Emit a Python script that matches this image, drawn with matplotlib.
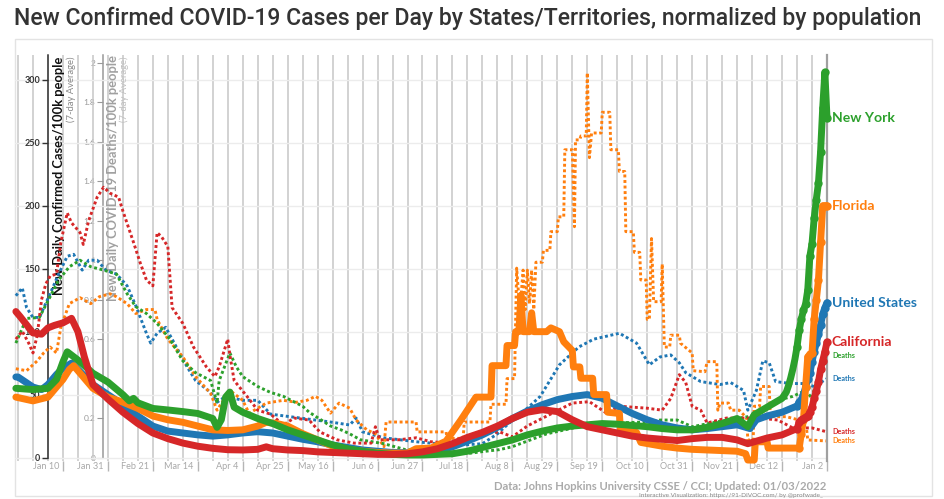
import matplotlib
matplotlib.use("Agg")
import matplotlib.pyplot as plt
from matplotlib.transforms import blended_transform_factory, ScaledTranslation
from matplotlib.patches import Rectangle

# ---------------- data (day offsets relative to 2021-01-10) ----------------
x_tick_days = [0, 21, 42, 63, 84, 105, 126, 147, 168, 189, 210, 231, 252, 273, 294, 315, 336, 357]
x_tick_labels = ["Jan 10", "Jan 31", "Feb 21", "Mar 14", "Apr 4", "Apr 25", "May 16", "Jun 6",
                 "Jun 27", "Jul 18", "Aug 8", "Aug 29", "Sep 19", "Oct 10", "Oct 31", "Nov 21",
                 "Dec 12", "Jan 2"]
cases_ticks = [0, 50, 100, 150, 200, 250, 300]
deaths_ticks = [0, 0.2, 0.4, 0.6, 0.8, 1.0, 1.2, 1.4, 1.6, 1.8, 2.0]

us_cases = [(-22, 64), (-21, 64), (-14, 56), (-10, 54), (-7, 58), (-3, 66), (0, 71), (4, 75), (7, 70),
            (14, 58), (21, 50), (28, 42), (35, 33), (42, 25), (49, 21), (56, 19.5), (63, 18), (70, 17),
            (77, 18), (84, 19.5), (91, 20.5), (98, 19.5), (105, 17), (112, 14.5), (119, 12.5), (126, 10),
            (133, 8), (140, 6), (147, 5), (154, 4), (161, 3.8), (168, 4), (175, 5.5), (182, 8.5), (189, 13),
            (196, 18), (203, 24), (210, 31), (217, 37), (224, 42), (231, 46), (238, 48.5), (245, 50),
            (252, 47), (259, 41), (266, 35), (273, 30), (280, 26), (287, 23.5), (294, 22), (301, 23),
            (308, 24.5), (315, 26), (321, 23), (324, 30), (329, 33), (336, 36), (343, 41), (344, 44),
            (345, 46), (346, 50), (347, 56), (348, 62), (349, 67), (350, 76), (351, 84), (352, 91),
            (353, 98), (354, 105), (355, 114), (356, 119), (357, 123)]

ca_cases = [(-22, 116), (-20, 112), (-14, 99), (-10, 98), (-7, 103), (-4, 105), (0, 107), (4, 110.6),
            (7, 100), (10, 80), (14, 58), (21, 46.5), (28, 36), (35, 27), (42, 19.5), (49, 15), (56, 11.5),
            (63, 9), (70, 7.3), (77, 6.2), (84, 6), (91, 6.5), (95, 8.5), (98, 7), (105, 6), (112, 5.5),
            (119, 4.5), (126, 4), (133, 3.5), (140, 3), (147, 2.5), (154, 2.5), (161, 3), (168, 4.5),
            (175, 7), (182, 11), (189, 16), (196, 20), (203, 25), (210, 31), (217, 36), (224, 38),
            (231, 36.5), (238, 30), (245, 24.5), (252, 22), (259, 19.5), (266, 17), (273, 15.5),
            (280, 14.5), (287, 13.5), (294, 15), (301, 16), (308, 16), (315, 14), (320, 11), (322, 12),
            (329, 15.5), (336, 18), (343, 23), (344, 28), (345, 30), (346, 31), (347, 32), (348, 33),
            (349, 36), (350, 40), (351, 47), (352, 53), (353, 60), (354, 70), (355, 77), (356, 84),
            (357, 91.6)]

ny_cases = [(-22, 55), (-14, 54), (-7, 55), (-3, 62), (0, 76), (2, 84), (7, 77.5), (14, 67), (21, 60),
            (28, 50), (31, 45), (33, 47), (35, 43.5), (42, 39), (49, 37.8), (56, 36.5), (63, 35),
            (70, 31), (72, 24), (74, 30), (76, 48), (78, 52), (80, 40), (84, 36), (91, 31), (98, 27),
            (105, 22), (112, 18), (119, 14), (126, 10), (133, 7), (140, 5), (147, 3.5), (154, 2.5),
            (161, 2), (168, 2), (175, 2.5), (182, 3), (189, 5), (196, 8), (203, 11), (210, 14),
            (217, 18), (224, 21), (231, 23.5), (238, 25), (245, 26), (252, 27), (259, 26.5),
            (266, 25.5), (273, 24.5), (280, 23), (287, 22), (294, 22), (301, 24), (308, 27), (315, 31),
            (320, 24.5), (323, 34), (329, 40), (333, 44), (336, 47), (338, 52), (339, 57), (340, 63),
            (341, 70), (342, 78), (343, 88), (344, 101), (345, 110), (346, 117), (347, 122), (348, 133),
            (349, 160), (350, 170), (351, 190), (352, 205), (353, 218), (354, 243), (355, 278),
            (356, 306), (357, 270)]

fl_cases = [(-22, 48), (-14, 45), (-7, 48), (-3, 56), (0, 62), (3, 70), (5, 73), (8, 67), (14, 55),
            (21, 48), (28, 44), (35, 39), (42, 33), (49, 30), (56, 28), (63, 25), (70, 22), (77, 21.5),
            (84, 22), (91, 25), (95, 28), (100, 27), (105, 25), (112, 19), (119, 14), (126, 9),
            (133, 6.5), (140, 5), (147, 4), (154, 3.5), (161, 3.5), (165, 7), (172, 7.5), (179, 13),
            (186, 30), (193, 48), (200, 48), (200.5, 73), (207, 73), (207.5, 89), (211, 89),
            (211.5, 100), (213, 100), (214, 129), (215, 100), (218, 100), (219, 115), (220, 100),
            (226, 100), (228, 103), (232, 100), (234, 92), (238, 85), (238.5, 72), (241.5, 72),
            (242, 63), (247.5, 63), (248, 50), (254, 50), (254.5, 36), (260, 35), (260.5, 22),
            (268, 20), (270, 12), (280, 9), (287, 7.5), (294, 6.5), (301, 6), (308, 5.5), (315, 5),
            (319, 3), (320, -2), (323, -2), (323.5, 12.5), (329, 12.5), (329.5, 7.5), (344, 7.5),
            (345, 19), (346, 30), (347, 56), (348, 80), (349, 82), (350, 83), (351, 110), (352, 125),
            (353, 141), (354, 171), (355, 200), (356, 200), (357, 200)]

us_deaths = [(-22, 0.82), (-19, 0.86), (-17, 0.76), (-14, 0.71), (-11, 0.71), (-6, 0.83), (-2, 0.93),
             (2, 1.02), (5, 1.03), (9, 0.95), (12, 1.0), (16, 1.0), (20, 0.95), (25, 0.93), (30, 0.87),
             (34, 0.77), (39, 0.63), (41, 0.58), (44, 0.63), (48, 0.66), (53, 0.56), (58, 0.46),
             (62, 0.39), (69, 0.33), (72, 0.28), (76, 0.31), (84, 0.29), (91, 0.29), (97, 0.22),
             (111, 0.2), (125, 0.18), (134, 0.165), (137, 0.2), (140, 0.13), (150, 0.1), (165, 0.08),
             (175, 0.07), (189, 0.065), (196, 0.07), (203, 0.12), (210, 0.19), (217, 0.25), (223, 0.31),
             (232, 0.47), (241, 0.56), (248, 0.6), (260, 0.63), (268, 0.58), (274, 0.47), (279, 0.51),
             (284, 0.52), (288, 0.48), (291, 0.43), (298, 0.385), (307, 0.37), (312, 0.38), (318, 0.34),
             (320, 0.24), (324, 0.34), (327, 0.49), (330, 0.48), (333, 0.385), (340, 0.375),
             (346, 0.375), (351, 0.36), (357, 0.40)]

ca_deaths = [(-22, 0.60), (-19, 0.64), (-16, 0.58), (-14, 0.53), (-12, 0.62), (-10, 0.80), (-8, 0.88),
             (-6, 0.92), (-3, 0.93), (-1, 1.09), (2, 1.24), (4, 1.19), (8, 1.14), (9.5, 1.08), (12, 1.20),
             (16, 1.32), (19, 1.37), (22, 1.34), (26, 1.32), (28, 1.25), (33, 1.09), (36, 0.99),
             (39, 0.90), (42, 0.87), (44, 1.14), (46, 1.12), (49, 1.07), (51, 0.76), (56, 0.68),
             (61, 0.56), (67, 0.46), (71, 0.41), (73, 0.46), (77, 0.60), (78, 0.52), (80, 0.39),
             (86, 0.31), (91, 0.24), (97, 0.22), (103, 0.165), (108, 0.2), (115, 0.19), (120, 0.13),
             (128, 0.09), (136, 0.073), (144, 0.073), (146, 0.156), (148, 0.09), (157, 0.09),
             (165, 0.1), (172, 0.08), (181, 0.073), (187, 0.09), (196, 0.12), (204, 0.13), (210, 0.105),
             (217, 0.16), (226, 0.21), (238, 0.276), (246, 0.283), (254, 0.225), (260, 0.26),
             (273, 0.25), (280, 0.24), (284, 0.3), (288, 0.42), (291, 0.38), (294, 0.26), (298, 0.24),
             (301, 0.175), (310, 0.2), (318, 0.2), (326, 0.2), (334, 0.19), (341, 0.15), (350, 0.15),
             (357, 0.13)]

ny_deaths = [(-22, 0.58), (-17, 0.705), (-11, 0.71), (-6, 0.815), (-2, 0.90), (3, 0.967), (8, 1.0),
             (13, 0.967), (19, 0.95), (25, 0.93), (30, 0.83), (34, 0.765), (39, 0.73), (44, 0.68),
             (50, 0.6), (56, 0.49), (62, 0.43), (69, 0.39), (72, 0.276), (73, 0.39), (78, 0.53),
             (81, 0.46), (84, 0.41), (91, 0.36), (97, 0.33), (103, 0.31), (112, 0.26), (115, 0.23),
             (125, 0.16), (130, 0.14), (134, 0.12), (139, 0.09), (150, 0.07), (160, 0.04), (173, 0.035),
             (189, 0.02), (196, 0.03), (204, 0.04), (210, 0.055), (226, 0.12), (241, 0.156),
             (257, 0.175), (273, 0.18), (279, 0.19), (287, 0.19), (294, 0.156), (310, 0.19),
             (320, 0.207), (326, 0.224), (334, 0.29), (341, 0.31), (347, 0.34), (350, 0.3), (354, 0.46),
             (357, 0.515)]

fl_deaths = [(-22, 0.45), (-17, 0.44), (-12, 0.49), (-9, 0.53), (-6, 0.56), (-3, 0.53), (-1, 0.66),
             (3, 0.78), (8, 0.81), (13, 0.78), (17, 0.815), (22, 0.83), (25, 0.815), (30, 0.78),
             (34, 0.73), (39, 0.75), (43, 0.75), (44, 0.70), (46, 0.66), (49, 0.6), (56, 0.51),
             (62, 0.41), (69, 0.325), (72, 0.24), (78, 0.34), (84, 0.29), (87, 0.224), (95, 0.276),
             (103, 0.29), (109, 0.28), (114, 0.29), (118, 0.31), (121, 0.29), (125, 0.225), (129, 0.276),
             (134, 0.25), (137, 0.19), (142, 0.14), (146, 0.12), (150, 0.055), (151, 0.18), (165, 0.18),
             (165.5, 0.13), (179, 0.13), (179.5, 0.097), (187, 0.097), (187.5, 0.18), (199.5, 0.18),
             (200, 0.27), (207, 0.27), (207.5, 0.40), (211, 0.40), (212, 0.96), (213, 0.81), (214, 0.81),
             (215, 0.95), (216, 0.75), (217, 0.95), (218, 0.78), (219, 0.95), (220, 0.75), (221, 0.99),
             (224, 0.99), (224.5, 1.05), (227.5, 1.05), (228, 1.145), (231, 1.145), (231.5, 1.22),
             (234, 1.22), (234.5, 1.56), (238, 1.56), (239, 1.17), (239.5, 1.61), (241.5, 1.61),
             (242, 1.63), (244.5, 1.63), (245, 1.95), (246, 1.52), (247, 1.645), (251.5, 1.645),
             (252, 1.75), (255.5, 1.75), (256, 1.56), (259.5, 1.56), (260, 1.45), (262.5, 1.45),
             (263, 1.145), (266.5, 1.145), (267, 1.04), (269.5, 1.04), (270, 0.90), (272.5, 0.90),
             (273, 0.70), (274, 0.70), (275, 1.11), (276, 0.79), (279.5, 0.79), (280, 0.98), (281, 0.56),
             (283.5, 0.56), (284, 0.62), (288, 0.62), (288.5, 0.58), (294, 0.53), (294.5, 0.44),
             (300, 0.435), (301, 0.486), (305.5, 0.486), (306, 0.24), (307, 0.276), (311, 0.276),
             (312, 0.24), (316, 0.24), (319.5, 0.2), (320, 0.089), (322.5, 0.089), (323, 0.26),
             (325.5, 0.26), (326, 0.36), (330, 0.36), (330.5, 0.207), (338, 0.207), (344, 0.19),
             (344.5, 0.14), (347.5, 0.14), (348, 0.089), (357, 0.084)]

series = [
    # name, cases, deaths, colour
    ("United States", us_cases, us_deaths, "#1f77b4"),
    ("Florida", fl_cases, fl_deaths, "#ff7f0e"),
    ("New York", ny_cases, ny_deaths, "#2ca02c"),
    ("California", ca_cases, ca_deaths, "#d62728"),
]

# ---------------- layout ----------------
W, H = 944, 499
fig = plt.figure(figsize=(W / 100, H / 100), dpi=100)
fig.patch.set_facecolor("white")

def fx(px):
    return px / W

def fy(py):
    return 1 - py / H

FONT = "Lato"
plt.rcParams["font.family"] = [FONT, "DejaVu Sans"]

# panel border
fig.add_artist(Rectangle((fx(15), fy(496)), fx(932) - fx(15), fy(39) - fy(496),
                         transform=fig.transFigure, fill=False, edgecolor="#e3e3e3", lw=1, zorder=-5))

fig.text(fx(14), fy(18), "New Confirmed COVID-19 Cases per Day by States/Territories, normalized by population",
         family="Roboto", fontsize=16.6, color="#333333", ha="left", va="center", fontweight="medium")

left_px, right_px, top_px, bot_px = 15, 827, 54.8, 461.3
ax = fig.add_axes([fx(left_px), fy(bot_px), fx(right_px) - fx(left_px), fy(top_px) - fy(bot_px)])
ax.patch.set_visible(False)
XMIN, XMAX = -22.4, 357
YMIN, YMAX = -3, 320
ax.set_xlim(XMIN, XMAX)
ax.set_ylim(YMIN, YMAX)
K = 156.76  # cases-axis units per deaths-axis unit (ratio of the two axis scales)

ax.set_axisbelow(True)
for s in ("top", "bottom"):
    ax.spines[s].set_visible(False)
ax.spines["right"].set_color("#a0a0a0")
ax.spines["right"].set_linewidth(1.6)
ax.spines["left"].set_position(("data", -7))
ax.spines["left"].set_bounds(0, YMAX)
ax.spines["left"].set_color("#333333")
ax.spines["left"].set_linewidth(1.1)
ax.spines["left"].set_zorder(0.6)

# x grid weekly, ticks every 3 weeks
ax.set_xticks(x_tick_days)
ax.set_xticklabels([])
ax.set_xticks(list(range(-21, 358, 7)), minor=True)
ax.tick_params(axis="x", which="major", length=7, color="#b5b5b5", width=1)
ax.tick_params(axis="x", which="minor", length=0)
ax.grid(axis="x", which="both", color="#c6c6c6", lw=1.1)
ax.set_yticks(cases_ticks)
ax.set_yticklabels([str(v) for v in cases_ticks])
ax.tick_params(axis="y", length=4, color="#333333", width=1, labelsize=6.5, labelcolor="#333333", pad=1.5)
for lab in ax.get_yticklabels():
    lab.set_fontweight("bold")
ax.grid(axis="y", color="#ececec", lw=1)

# x labels: right-aligned, just left of their tick
trans_x = blended_transform_factory(ax.transData, ax.transAxes)
for d, lab in zip(x_tick_days, x_tick_labels):
    ax.text(d, 0, lab, transform=trans_x + ScaledTranslation(-4 / 100, -5 / 100, fig.dpi_scale_trans),
            ha="right", va="center", fontsize=6.6, color="#a8a8a8", clip_on=False, zorder=1)

# secondary (deaths) axis
ax2 = ax.secondary_yaxis((103 - left_px) / (right_px - left_px), functions=(lambda y: y / K, lambda y: y * K))
ax2.set_yticks(deaths_ticks)
ax2.set_yticklabels(["0", "0.2", "0.4", "0.6", "0.8", "1", "1.2", "1.4", "1.6", "1.8", "2"])
ax2.tick_params(axis="y", length=4, color="#999999", labelsize=6, labelcolor="#9a9a9a", pad=1.5)
ax2.spines["left"].set_color("#999999")
ax2.spines["left"].set_linewidth(1.1)
ax2.spines["left"].set_bounds(0, YMAX / K)

# axis titles (under the data)
ax.text(fx(59), fy(57), "New Daily Confirmed Cases/100k people", transform=fig.transFigure, rotation=90,
        ha="center", va="top", fontsize=9.3, fontweight="bold", color="#111111", zorder=1)
ax.text(fx(71), fy(57), "(7-day Average)", transform=fig.transFigure, rotation=90,
        ha="center", va="top", fontsize=6.8, color="#8a8a8a", zorder=1)
ax.text(fx(113), fy(55), "New Daily COVID-19 Deaths/100k people", transform=fig.transFigure, rotation=90,
        ha="center", va="top", fontsize=9.3, fontweight="bold", color="#a0a0a0", zorder=1)
ax.text(fx(124), fy(57), "(7-day Average)", transform=fig.transFigure, rotation=90,
        ha="center", va="top", fontsize=6.8, color="#c0c0c0", zorder=1)

# ---------------- data ----------------
for i, (name, cases, deaths, col) in enumerate(series):
    dd = [p[0] for p in deaths]
    dv = [p[1] * K for p in deaths]
    ax.plot(dd, dv, color=col, lw=2.1, linestyle=(0, (1.0, 0.9)), zorder=2 + i * 0.01, clip_on=False)

for i, (name, cases, deaths, col) in enumerate(series):
    cd = [p[0] for p in cases]
    cv = [p[1] for p in cases]
    mk = [j for j, d in enumerate(cd) if d >= 343]
    ax.plot(cd, cv, color=col, lw=5.0, solid_joinstyle="round", solid_capstyle="round",
            marker="o", markevery=mk, ms=5.0, zorder=3 + i * 0.1, clip_on=False)

# end labels
for i, (name, cases, deaths, col) in enumerate(series):
    ax.annotate(name, xy=(cases[-1][0], cases[-1][1]), xytext=(5, 0), textcoords="offset pixels",
                ha="left", va="center", fontsize=10.1, fontweight="bold", color=col, annotation_clip=False)
    ax.annotate("Deaths", xy=(deaths[-1][0], deaths[-1][1] * K), xytext=(5, 0), textcoords="offset pixels",
                ha="left", va="center", fontsize=5.2, fontweight="bold", color=col, annotation_clip=False)

# footer
fig.text(fx(826), fy(486), "Data: Johns Hopkins University CSSE / CCI; Updated: 01/03/2022",
         ha="right", va="center", fontsize=8.1, fontweight="bold", color="#aaaaaa")
fig.text(fx(823), fy(495), "Interactive Visualization: https://91-DIVOC.com/ by @profwade_",
         ha="right", va="center", fontsize=4.6, color="#888888")

fig.savefig("out.png", dpi=100, facecolor="white")
